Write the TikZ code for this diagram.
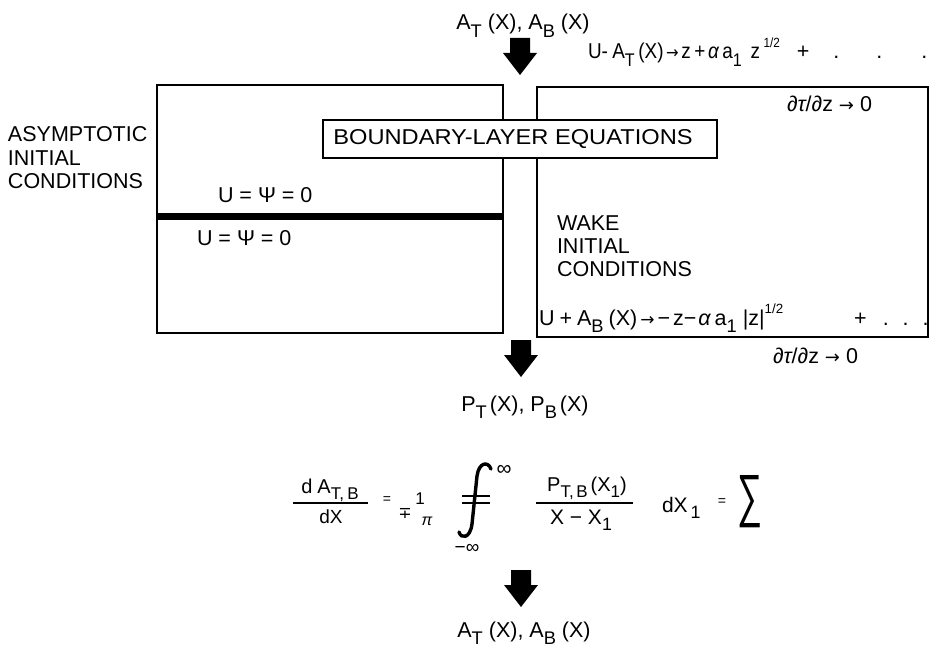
\documentclass[tikz,border=0pt]{standalone}
\usepackage{fontspec}
\setmainfont{Liberation Sans}
\newfontfamily\symf{DejaVu Sans}
\usepackage{graphicx}
\newcommand{\dn}[1]{\raisebox{-0.33em}{\scalebox{0.85}{#1}}}
\newcommand{\upx}[1]{\raisebox{0.55em}{\scalebox{0.62}{#1}}}
\newcommand{\fs}[1]{\fontsize{#1}{#1}\selectfont}
\newcommand{\hs}[1]{\hspace{#1pt}}
\tikzset{
  every node/.style={inner sep=0pt, outer sep=0pt, font=\fs{21.5}},
  boxline/.style={draw, line width=2.6pt, minimum width=0pt, minimum height=0pt},
  lbl/.style={anchor=base west},
  ctr/.style={anchor=base},
  wall/.style={line width=7pt},
  fracbar/.style={line width=1.5pt},
  intstroke/.style={line width=3.4pt, line cap=round},
  blockarrow/.pic={\fill (-10,0) -- (10,0) -- (10,15) -- (17,15) -- (0,37) -- (-17,15) -- (-10,15) -- cycle;}
}
\begin{document}
\begin{tikzpicture}[x=1pt,y=-1pt]
\useasboundingbox (0,0) rectangle (940,650);
% boxes
\node[boxline, anchor=north west, minimum width=346pt, minimum height=248pt] (lbox) at (157,85) {};
\node[boxline, anchor=north west, minimum width=391pt, minimum height=250pt] (rbox) at (537,87) {};
\coordinate (wl) at (157,216.5);
\coordinate (wr) at (503,216.5);
\draw[wall] (wl) -- (wr);
\node[draw, line width=2.2pt, fill=white, anchor=north west, minimum width=394pt, minimum height=38pt] (blbox) at (323,120) {};
\node (bltext) at (513,139) {\scalebox{1.1}[1]{BOUNDARY-LAYER EQUATIONS}};
% arrows
\pic at (520,38) {blockarrow};
\pic at (521,340) {blockarrow};
\pic at (521,570) {blockarrow};
% top labels
\node[ctr] (topin) at (523,30) {A\dn{T} (X), A\dn{B} (X)};
\node[lbl] (topbc) at (588,59) {\scalebox{0.88}[1]{U-\hs{5}A\dn{T}\hs{4}(X)\hs{3}{\symf\fs{17}→}\hs{3}z\hs{4}+\hs{3}{\itshape α}\hs{4}a\dn{1}\hs{10}z\hs{4}\upx{1/2}}\hs{17}+\hs{24}.\hs{37}.\hs{39}.};
\node[lbl] (dtz1) at (787,112) {∂{\itshape τ}/∂z {\symf\fs{18}→} 0};
% left texts
\node[lbl] (as1) at (8,142) {ASYMPTOTIC};
\node[lbl] (as2) at (8,165) {INITIAL};
\node[lbl] (as3) at (8,188) {CONDITIONS};
\node[lbl] (u1) at (218,202) {U = Ψ = 0};
\node[lbl] (u2) at (197,245) {U = Ψ = 0};
% wake texts
\node[lbl] (wk1) at (557,230) {WAKE};
\node[lbl] (wk2) at (557,253) {INITIAL};
\node[lbl] (wk3) at (557,276) {CONDITIONS};
\node[lbl] (botbc) at (539,325) {U\hs{5}+\hs{5}A\dn{B}\hs{5}(X)\hs{3}{\symf\fs{17}→}\hs{3}−\hs{3}z−\hs{2}{\itshape α}\hs{4}a\dn{1}\hs{6}|z|\upx{1/2}\hs{71}+\hs{16}.\hs{14}.\hs{14}.};
\node[lbl] (dtz2) at (773,363) {∂{\itshape τ}/∂z {\symf\fs{18}→} 0};
% pressures
\node[ctr] (pin) at (525,411) {P\dn{T}\hs{3}(X), P\dn{B}\hs{3}(X)};
% equation
\node[ctr, font=\fs{20}] (dan) at (330,493) {d\hs{5}A\dn{T,\hs{4}B}};
\coordinate (dab1) at (293,503);
\coordinate (dab2) at (368,503);
\draw[fracbar] (dab1) -- (dab2);
\node[ctr, font=\fs{19}] (dad) at (331,523) {dX};
\node[font=\fs{14}] (eq1) at (387,500) {=};
\node[font=\symf\fs{16}] (mp) at (405,513) {∓};
\node[font=\fs{17}] (one) at (420,499) {1};
\node[font=\fs{16}\itshape] (pi) at (427,521) {π};
\coordinate (itop) at (491,469);
\coordinate (ibot) at (459,532);
\draw[intstroke] (itop) .. controls (488,461) and (479,462) .. (477,476) -- (472,524) .. controls (470,539) and (461,539) .. (ibot);
\coordinate (ib1a) at (462,496);
\coordinate (ib1b) at (490,496);
\coordinate (ib2a) at (462,503);
\coordinate (ib2b) at (490,503);
\draw[line width=2.2pt] (ib1a) -- (ib1b);
\draw[line width=2.2pt] (ib2a) -- (ib2b);
\node[font=\fs{21}] (infu) at (504,470) {∞};
\node[font=\fs{19}] (infl) at (467,549) {−∞};
\node[ctr, font=\fs{20}] (pn) at (587,491) {P\dn{T,\hs{3}B}\hs{3}(X\dn{1})};
\coordinate (pb1) at (536,503);
\coordinate (pb2) at (633,503);
\draw[fracbar] (pb1) -- (pb2);
\node[ctr, font=\fs{21}] (pd) at (581,524) {X − X\dn{1}};
\node[lbl, font=\fs{21}] (dx1) at (662,512) {dX\hs{3}\dn{1}};
\node[font=\fs{14}] (eq2) at (722,502) {=};
\node (sig) at (750,502) {\resizebox{25pt}{40pt}{∑}};
% bottom label
\node[ctr] (botout) at (524,637) {A\dn{T} (X), A\dn{B} (X)};
\end{tikzpicture}
\end{document}
